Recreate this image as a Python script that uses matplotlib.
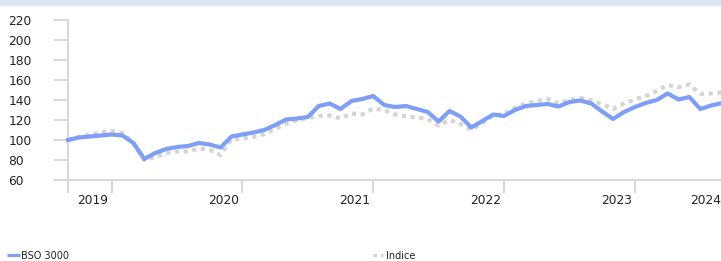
import matplotlib
matplotlib.use("Agg")
import matplotlib.pyplot as plt
from matplotlib.patches import Rectangle
from matplotlib.lines import Line2D

# ---- data (monthly index 0..60) ----
bso3000 = [100, 102.5, 103.5, 104.5, 105.5, 104.5, 97, 81, 87, 91,
           93, 94, 97, 95.5, 92.5, 103.5, 105.5, 107.5, 110, 115,
           120.5, 121.5, 123, 134, 136.5, 131, 139, 141, 144, 135,
           133, 134, 131, 128, 118.5, 129, 123.5, 112.5, 119, 125.5,
           124, 130, 134, 135, 136, 133.5, 138, 139.5, 136.5, 128.5,
           121, 128, 133, 137, 140, 146.5, 140.5, 143, 131, 134.5,
           137]
indice = [100, 103, 105, 107.5, 109, 107, 97, 80, 83, 87,
          88.5, 88.5, 91.5, 90, 85, 101, 101.5, 103, 106, 111,
          116.5, 120, 122, 124, 124.5, 121.5, 126.5, 125.5, 131.5, 130,
          125.5, 123.5, 122.5, 121, 114.5, 120, 116, 110, 117, 124.5,
          126, 132, 136.5, 139, 141, 136.5, 140, 142, 139.5, 136,
          131, 136.5, 140.5, 144, 149, 155, 153, 155.5, 146, 146.5,
          147.5]
year_labels = ["2019", "2020", "2021", "2022", "2023", "2024"]
y_ticks = [60, 80, 100, 120, 140, 160, 180, 200, 220]
series_names = ["BSO 3000", "Indice"]

BLUE = "#7f9ef5"
GRAY = "#d4d4d4"
AXC = "#d9d9d9"

W, H = 721, 261
fig = plt.figure(figsize=(W / 100, H / 100), dpi=100)
fig.patch.set_facecolor("white")

# top band
fig.patches.append(Rectangle((0, 1 - 5.5 / H), 1, 5.5 / H, transform=fig.transFigure,
                             facecolor="#e0e4f2", edgecolor="none"))

left, right = 68 / W, 1.0
bottom, top = (H - 180) / H, (H - 20) / H
ax = fig.add_axes([left, bottom, right - left, top - bottom])
ax.set_facecolor("none")

x = list(range(len(bso3000)))
ax.plot(x, indice, color=GRAY, lw=3.0, linestyle=(0, (1, 1.1)), dash_capstyle="butt",
        solid_joinstyle="miter", zorder=2, clip_on=False)
ax.plot(x, bso3000, color=BLUE, lw=3.0, solid_joinstyle="round", zorder=3, clip_on=False)

ax.set_xlim(0, 59.9)
ax.set_ylim(60, 220)

for s in ["top", "right"]:
    ax.spines[s].set_visible(False)
ax.spines["left"].set_color(AXC)
ax.spines["bottom"].set_color(AXC)
ax.spines["left"].set_linewidth(1.5)
ax.spines["bottom"].set_linewidth(1.5)

# y ticks
ax.set_yticks(y_ticks)
ax.set_yticklabels([str(v) for v in y_ticks])
ax.tick_params(axis="y", direction="out", length=10, width=1.5, color=AXC,
               pad=33, labelsize=8.8, labelcolor="#222222")
for lab in ax.get_yticklabels():
    lab.set_horizontalalignment("left")

# x ticks: marks at year boundaries, labels via minor ticks
first_tick = 4
major = [0] + [first_tick + 12 * i for i in range(len(year_labels) - 1)]
ax.set_xticks(major)
ax.set_xticklabels([""] * len(major))
label_pos = [first_tick + 12 * i - 1.7 for i in range(len(year_labels) - 1)] + [58.5]
ax.set_xticks(label_pos, minor=True)
ax.set_xticklabels(year_labels, minor=True)
ax.tick_params(axis="x", which="major", direction="out", length=9.5, width=1.5, color=AXC)
ax.tick_params(axis="x", which="minor", length=0, pad=10, labelsize=8.8, labelcolor="#222222")

# legend
fig.lines.append(Line2D([7 / W, 20 / W], [1 - 254.5 / H] * 2, transform=fig.transFigure,
                        color=BLUE, lw=2.2, solid_capstyle="butt"))
fig.text(21 / W, 1 - 256 / H, series_names[0], fontsize=7, color="#222222", va="center", ha="left")
fig.lines.append(Line2D([373 / W, 383 / W], [1 - 254.5 / H] * 2, transform=fig.transFigure,
                        color=GRAY, lw=2.2, linestyle=(0, (1.2, 1.2)), dash_capstyle="butt"))
fig.text(386 / W, 1 - 256 / H, series_names[1], fontsize=7, color="#222222", va="center", ha="left")

fig.savefig("out.png", dpi=100)
